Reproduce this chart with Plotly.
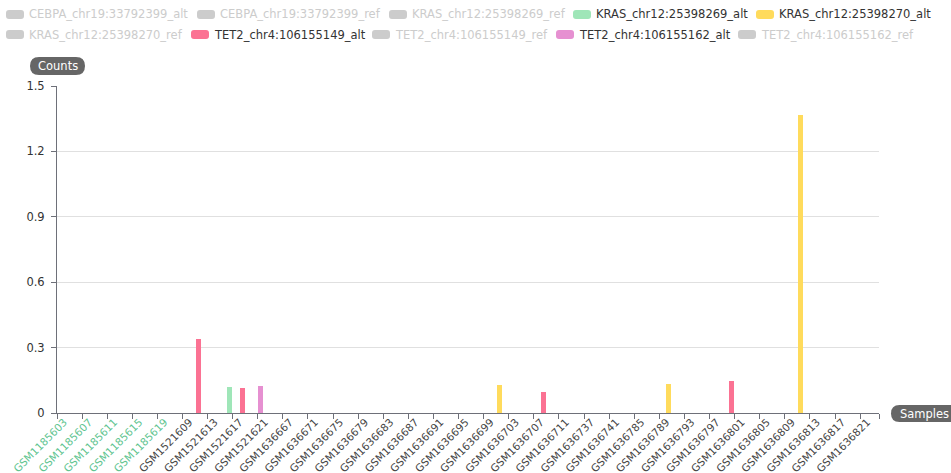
import plotly.graph_objects as go

# ---------------- data ----------------
samples = [
    "GSM1185603", "GSM1185604", "GSM1185605", "GSM1185606", "GSM1185607", "GSM1185608", "GSM1185609", "GSM1185610",
    "GSM1185611", "GSM1185612", "GSM1185613", "GSM1185614", "GSM1185615", "GSM1185616", "GSM1185617", "GSM1185618",
    "GSM1185619", "GSM1185620", "GSM1185621", "GSM1185622",
    "GSM1521609", "GSM1521610", "GSM1521611", "GSM1521612", "GSM1521613", "GSM1521614", "GSM1521615", "GSM1521616",
    "GSM1521617", "GSM1521618", "GSM1521619", "GSM1521620", "GSM1521621", "GSM1521622", "GSM1521623", "GSM1521624",
    "GSM1636667", "GSM1636668", "GSM1636669", "GSM1636670", "GSM1636671", "GSM1636672", "GSM1636673", "GSM1636674",
    "GSM1636675", "GSM1636676", "GSM1636677", "GSM1636678", "GSM1636679", "GSM1636680", "GSM1636681", "GSM1636682",
    "GSM1636683", "GSM1636684", "GSM1636685", "GSM1636686", "GSM1636687", "GSM1636688", "GSM1636689", "GSM1636690",
    "GSM1636691", "GSM1636692", "GSM1636693", "GSM1636694", "GSM1636695", "GSM1636696", "GSM1636697", "GSM1636698",
    "GSM1636699", "GSM1636700", "GSM1636701", "GSM1636702", "GSM1636703", "GSM1636704", "GSM1636705", "GSM1636706",
    "GSM1636707", "GSM1636708", "GSM1636709", "GSM1636710", "GSM1636711", "GSM1636712", "GSM1636713", "GSM1636714",
    "GSM1636737", "GSM1636738", "GSM1636739", "GSM1636740", "GSM1636741", "GSM1636742", "GSM1636743", "GSM1636744",
    "GSM1636785", "GSM1636786", "GSM1636787", "GSM1636788", "GSM1636789", "GSM1636790", "GSM1636791", "GSM1636792",
    "GSM1636793", "GSM1636794", "GSM1636795", "GSM1636796", "GSM1636797", "GSM1636798", "GSM1636799", "GSM1636800",
    "GSM1636801", "GSM1636802", "GSM1636803", "GSM1636804", "GSM1636805", "GSM1636806", "GSM1636807", "GSM1636808",
    "GSM1636809", "GSM1636810", "GSM1636811", "GSM1636812", "GSM1636813", "GSM1636814", "GSM1636815", "GSM1636816",
    "GSM1636817", "GSM1636818", "GSM1636819", "GSM1636820", "GSM1636821", "GSM1636822", "GSM1636823",
]

tick_labels = [
    "GSM1185603", "GSM1185607", "GSM1185611", "GSM1185615", "GSM1185619",
    "GSM1521609", "GSM1521613", "GSM1521617", "GSM1521621",
    "GSM1636667", "GSM1636671", "GSM1636675", "GSM1636679", "GSM1636683", "GSM1636687",
    "GSM1636691", "GSM1636695", "GSM1636699", "GSM1636703", "GSM1636707", "GSM1636711",
    "GSM1636737", "GSM1636741", "GSM1636785", "GSM1636789", "GSM1636793", "GSM1636797",
    "GSM1636801", "GSM1636805", "GSM1636809", "GSM1636813", "GSM1636817", "GSM1636821",
]
green_labels = ["GSM1185603", "GSM1185607", "GSM1185611", "GSM1185615", "GSM1185619"]

series_names = [
    "CEBPA_chr19:33792399_alt", "CEBPA_chr19:33792399_ref", "KRAS_chr12:25398269_ref",
    "KRAS_chr12:25398269_alt", "KRAS_chr12:25398270_alt",
    "KRAS_chr12:25398270_ref", "TET2_chr4:106155149_alt", "TET2_chr4:106155149_ref",
    "TET2_chr4:106155162_alt", "TET2_chr4:106155162_ref",
]
series_colors = ["#37A2DA", "#32C5E9", "#67E0E3", "#9FE6B8", "#FFDB5C",
                 "#ff9f7f", "#fb7293", "#E062AE", "#E690D1", "#e7bcf3"]
series_selected = [False, False, False, True, True, False, True, False, True, False]

kras_269_alt_samples = ["GSM1521616"]
kras_269_alt_values = [0.121]
kras_270_alt_samples = ["GSM1636701", "GSM1636790", "GSM1636811"]
kras_270_alt_values = [0.127, 0.134, 1.367]
tet2_149_alt_samples = ["GSM1521611", "GSM1521618", "GSM1636708", "GSM1636800"]
tet2_149_alt_values = [0.340, 0.116, 0.096, 0.145]
tet2_162_alt_samples = ["GSM1521621"]
tet2_162_alt_values = [0.124]

series_data = {
    "KRAS_chr12:25398269_alt": (kras_269_alt_samples, kras_269_alt_values),
    "KRAS_chr12:25398270_alt": (kras_270_alt_samples, kras_270_alt_values),
    "TET2_chr4:106155149_alt": (tet2_149_alt_samples, tet2_149_alt_values),
    "TET2_chr4:106155162_alt": (tet2_162_alt_samples, tet2_162_alt_values),
}

# ---------------- layout geometry ----------------
W, H = 951, 473
L, R, T, B = 57, 72, 86, 60
PW, PH = W - L - R, H - T - B
FONT = "DejaVu Sans"
AXIS_COLOR = "#6E7079"


def px(x):
    return (x - L) / PW


def py(y):
    return (H - B - y) / PH


def rrect(x0, y0, x1, y1, r):
    rx, ry = r / PW, r / PH
    X0, X1, Y0, Y1 = px(x0), px(x1), py(y0), py(y1)  # Y0 top, Y1 bottom
    return (f"M {X0+rx},{Y0} L {X1-rx},{Y0} Q {X1},{Y0} {X1},{Y0-ry} "
            f"L {X1},{Y1+ry} Q {X1},{Y1} {X1-rx},{Y1} L {X0+rx},{Y1} "
            f"Q {X0},{Y1} {X0},{Y1+ry} L {X0},{Y0-ry} Q {X0},{Y0} {X0+rx},{Y0} Z")


fig = go.Figure()
for name, color in zip(series_names, series_colors):
    if name in series_data:
        xs, ys = series_data[name]
        fig.add_trace(go.Bar(x=xs, y=ys, name=name, marker_color=color,
                             marker_line_width=0, showlegend=False))

# invisible trace so the tick-overlay axis is drawn
fig.add_trace(go.Scatter(x=[-0.5], y=[0], xaxis="x2", mode="markers",
                         marker=dict(opacity=0), showlegend=False, hoverinfo="skip"))

ticktext = [f'<span style="color:#5ec48f">{t}</span>' if t in green_labels else t
            for t in tick_labels]
idx = [samples.index(t) for t in tick_labels]
boundaries = [i - 0.5 for i in idx] + [len(samples) - 0.5]

shapes = []
annotations = []

# legend (custom, matching the reference layout)
legend_pos = [(6, 14.5), (197, 14.5), (389, 14.5), (573, 14.5), (756, 14.5),
              (6, 34.5), (191, 34.5), (372, 34.5), (556, 34.5), (738, 34.5)]
for name, color, sel, (lx, ly) in zip(series_names, series_colors, series_selected, legend_pos):
    shapes.append(dict(type="path", xref="paper", yref="paper",
                       path=rrect(lx, ly - 4.5, lx + 18, ly + 4.5, 3),
                       fillcolor=color if sel else "#cccccc", line=dict(width=0)))
    annotations.append(dict(text=name, xref="paper", yref="paper", x=px(lx + 21), y=py(ly),
                            xanchor="left", yanchor="middle", showarrow=False,
                            font=dict(family=FONT, size=11.5, color="#333333" if sel else "#cccccc")))

# axis name pills
shapes.append(dict(type="path", xref="paper", yref="paper", path=rrect(30, 57, 85, 75, 9),
                   fillcolor="#666666", line=dict(width=0)))
annotations.append(dict(text="Counts", xref="paper", yref="paper", x=px(57.5), y=py(66),
                        xanchor="center", yanchor="middle", showarrow=False,
                        font=dict(family=FONT, size=11.5, color="white")))
shapes.append(dict(type="path", xref="paper", yref="paper", path=rrect(891, 405, 960, 422, 8.5),
                   fillcolor="#666666", line=dict(width=0)))
annotations.append(dict(text="Samples", xref="paper", yref="paper", x=px(898), y=py(413.5),
                        xanchor="left", yanchor="middle", showarrow=False,
                        font=dict(family=FONT, size=11.5, color="white")))

fig.update_layout(
    width=W, height=H,
    margin=dict(l=L, r=R, t=T, b=B, autoexpand=False),
    paper_bgcolor="white", plot_bgcolor="white",
    barmode="stack", bargap=0.2,
    font=dict(family=FONT, size=11.5, color="#333333"),
    showlegend=False,
    xaxis=dict(type="category", categoryorder="array", categoryarray=samples,
               range=[-0.5, len(samples) - 0.5], tickmode="array", tickvals=tick_labels,
               ticktext=ticktext, tickangle=-45, ticks="", showgrid=False,
               showline=True, linecolor=AXIS_COLOR, linewidth=1, zeroline=False,
               ticklabelshift=4, ticklabelstandoff=-2,
               tickfont=dict(family=FONT, size=10.5, color="#444444"), automargin=False),
    xaxis2=dict(overlaying="x", anchor="y", side="bottom", range=[-0.5, len(samples) - 0.5],
                tickmode="array", tickvals=boundaries, ticks="outside", ticklen=5,
                tickcolor=AXIS_COLOR, showticklabels=False, showgrid=False,
                showline=False, zeroline=False, automargin=False),
    yaxis=dict(range=[0, 1.5], tickmode="linear", tick0=0, dtick=0.3,
               ticks="outside", ticklen=5, tickcolor=AXIS_COLOR,
               showline=True, linecolor=AXIS_COLOR, linewidth=1,
               gridcolor="#E0E0E0", zeroline=False, ticklabelstandoff=4,
               tickfont=dict(family=FONT, size=11.5, color="#333333"), automargin=False),
    shapes=shapes,
    annotations=annotations,
)

fig.write_html("out.html", config={"displayModeBar": False})
with open("out.html", encoding="utf-8") as f:
    html = f.read()
html = html.replace("<body>", '<body style="margin:0;padding:0;overflow:hidden">', 1)
with open("out.html", "w", encoding="utf-8") as f:
    f.write(html)
